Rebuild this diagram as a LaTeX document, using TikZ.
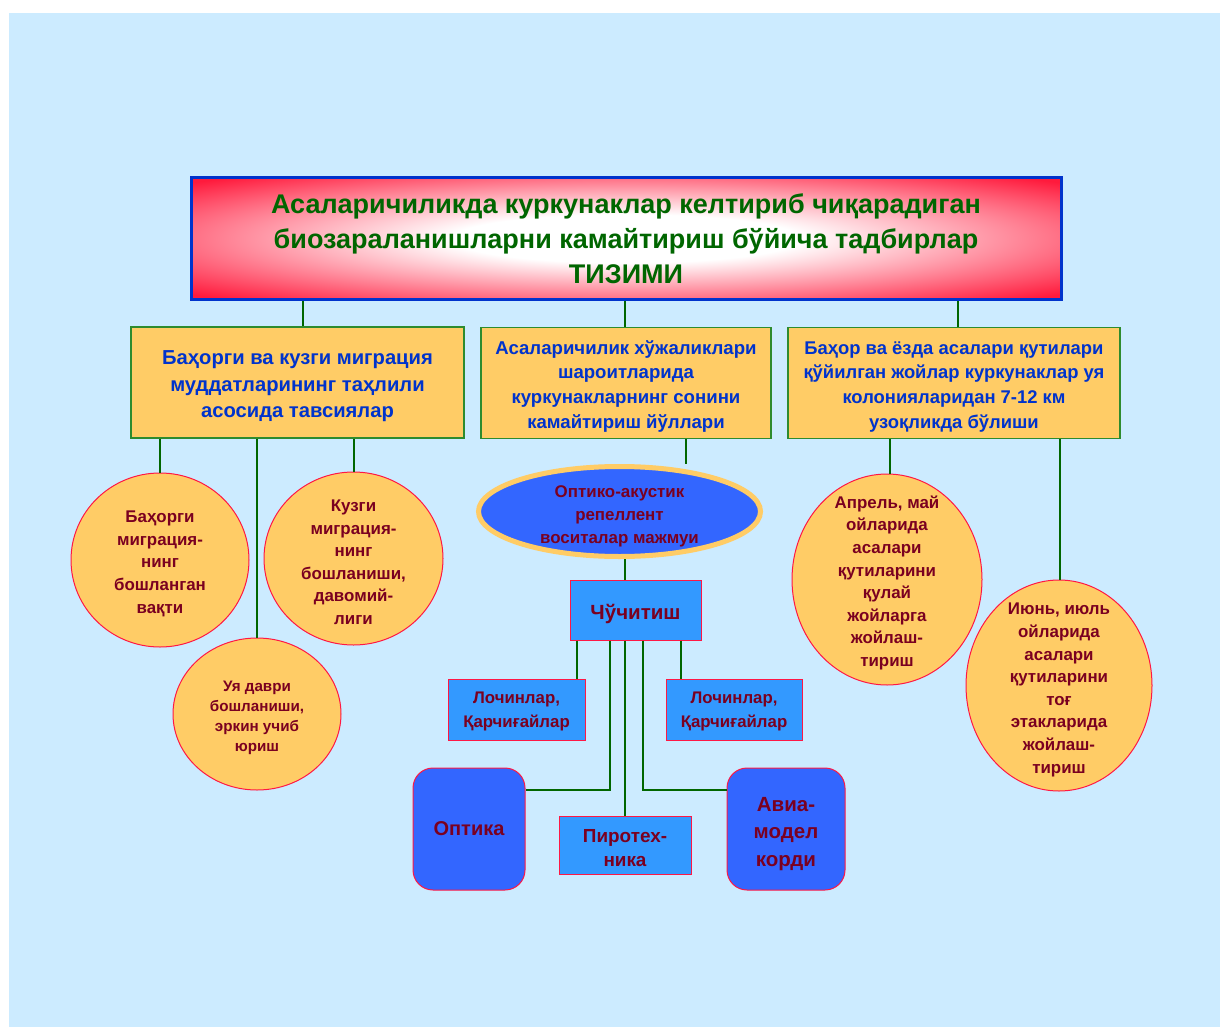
\documentclass[tikz,border=0pt]{standalone}
\usepackage{fontspec}
\setmainfont{Liberation Sans}
\usetikzlibrary{shapes.geometric}
\definecolor{bgblue}{HTML}{CCEBFF}
\definecolor{linegreen}{HTML}{006600}
\definecolor{framegreen}{HTML}{2E8B2E}
\definecolor{boxorange}{HTML}{FFCC66}
\definecolor{textblue}{HTML}{0033CC}
\definecolor{darkred}{HTML}{7A0020}
\definecolor{crimson}{HTML}{FF1744}
\definecolor{skyblue}{HTML}{3399FF}
\definecolor{royal}{HTML}{3366FF}
\definecolor{titlered}{HTML}{FF1A3C}
\definecolor{titleframe}{HTML}{0033CC}
\pgfdeclareradialshading{titleshade}{\pgfpoint{0bp}{0bp}}{%
  color(0bp)=(white); color(10bp)=(white); color(34bp)=(titlered); color(50bp)=(titlered)}
\tikzset{
  conn/.style={draw=linegreen, line width=2pt},
  orangebox/.style={rectangle, fill=boxorange, draw=framegreen, line width=1.2pt,
    text=textblue, inner sep=0pt, align=center},
  % negative inner sep keeps the ellipse at its minimum size around tall text
  oval/.style={ellipse, fill=boxorange, draw=crimson, line width=1pt,
    text=darkred, inner sep=-45pt, align=center},
  bluebox/.style={rectangle, fill=skyblue, draw=crimson, line width=1pt,
    text=darkred, inner sep=0pt, align=center},
  roundbox/.style={rectangle, rounded corners=20pt, fill=royal, draw=crimson,
    line width=1pt, text=darkred, inner sep=0pt, align=center},
}
\begin{document}
\begin{tikzpicture}[x=1pt, y=-1pt]
\useasboundingbox (0,0) rectangle (1220,1027);
\fill[white] (0,0) rectangle (1220,1027);
\fill[bgblue] (9,13) rectangle (1220,1027);

% title
\node[rectangle, shading=titleshade, draw=titleframe, line width=3pt,
  minimum width=870pt, minimum height=121pt, inner sep=0pt, align=center,
  text=linegreen, font={\fontsize{27}{35}\selectfont\bfseries}]
  (title) at (626,238.5)
  {Асаларичиликда куркунаклар келтириб чиқарадиган\\
   биозараланишларни камайтириш бўйича тадбирлар\\ ТИЗИМИ};

% second level (text height pads the top so the lines sit a little lower)
\node[orangebox, minimum width=333pt, minimum height=111pt, text height=74.5pt,
  font={\fontsize{20.2}{26.5}\selectfont\bfseries}] (b1) at (297.5,382.5)
  {Баҳорги ва кузги миграция\\ муддатларининг таҳлили\\ асосида тавсиялар};
\node[orangebox, minimum width=290pt, minimum height=111pt, text height=94.5pt,
  font={\fontsize{18.6}{24.7}\selectfont\bfseries}] (b2) at (626,383)
  {Асаларичилик хўжаликлари\\ шароитларида\\ куркунакларнинг сонини\\ камайтириш йўллари};
\node[orangebox, minimum width=332pt, minimum height=111pt, text height=94.5pt,
  font={\fontsize{18.4}{24.7}\selectfont\bfseries}] (b3) at (954,383)
  {Баҳор ва ёзда асалари қутилари\\ қўйилган жойлар куркунаклар уя\\
   колонияларидан 7-12 км\\ узоқликда бўлиши};

% left branch
\node[oval, minimum width=178pt, minimum height=174pt, text height=109.5pt,
  font={\fontsize{16.9}{22.6}\selectfont\bfseries}] (c1) at (160,560)
  {Баҳорги\\ миграция-\\ нинг\\ бошланган\\ вақти};
\node[oval, minimum width=179pt, minimum height=173pt, text height=132pt,
  font={\fontsize{16.9}{22.6}\selectfont\bfseries}] (c2) at (353.5,558.5)
  {Кузги\\ миграция-\\ нинг\\ бошланиши,\\ давомий-\\ лиги};
\node[oval, minimum width=168pt, minimum height=152pt, text height=78pt,
  font={\fontsize{15.2}{20}\selectfont\bfseries}] (c3) at (257,714)
  {Уя даври\\ бошланиши,\\ эркин учиб\\ юриш};

% right branch
\node[oval, minimum width=190pt, minimum height=211pt, text height=177.5pt,
  font={\fontsize{16.9}{22.6}\selectfont\bfseries}] (c4) at (887,579.5)
  {Апрель, май\\ ойларида\\ асалари\\ қутиларини\\ қулай\\ жойларга\\ жойлаш-\\ тириш};
\node[oval, minimum width=186pt, minimum height=211pt, text height=178.5pt,
  font={\fontsize{16.9}{22.6}\selectfont\bfseries}] (c5) at (1059,685.5)
  {Июнь, июль\\ ойларида\\ асалари\\ қутиларини\\ тоғ\\ этакларида\\ жойлаш-\\ тириш};

% middle branch
\node[ellipse, fill=royal, draw=boxorange, line width=5pt, inner sep=-30pt,
  minimum width=282pt, minimum height=90pt, align=center, text=darkred,
  text height=66.5pt,
  font={\fontsize{16.9}{23}\selectfont\bfseries}] (el) at (619.5,511.5)
  {Оптико-акустик\\ репеллент\\ воситалар мажмуи};
\node[bluebox, minimum width=131pt, minimum height=60pt, text height=23pt,
  text depth=4pt,
  font={\fontsize{20.5}{25}\selectfont\bfseries}] (scare) at (635.5,610)
  {Чўчитиш};
\node[bluebox, minimum width=137pt, minimum height=61pt, text height=40pt,
  font={\fontsize{16.8}{24}\selectfont\bfseries}] (hawk1) at (516.5,709.5)
  {Лочинлар,\\ Қарчиғайлар};
\node[bluebox, minimum width=136pt, minimum height=61pt, text height=40pt,
  font={\fontsize{16.8}{24}\selectfont\bfseries}] (hawk2) at (734,709.5)
  {Лочинлар,\\ Қарчиғайлар};
\node[roundbox, minimum width=112pt, minimum height=122pt,
  font={\fontsize{20}{27}\selectfont\bfseries}] (optic) at (469,829)
  {Оптика};
\node[bluebox, minimum width=132pt, minimum height=58pt, text height=43.5pt,
  font={\fontsize{18.9}{24}\selectfont\bfseries}] (pyro) at (625,845)
  {Пиротех-\\ ника};
\node[roundbox, minimum width=118pt, minimum height=122pt, text height=78.5pt,
  font={\fontsize{20.5}{27.5}\selectfont\bfseries}] (avia) at (786,829)
  {Авиа-\\ модел\\ корди};

% connector positions
\coordinate (k1) at (303,0);
\coordinate (k2) at (625,0);
\coordinate (k3) at (958,0);
\coordinate (k4) at (686,0);
\coordinate (k5) at (577,0);
\coordinate (k6) at (681,0);
\coordinate (k7) at (610,0);
\coordinate (k8) at (643,0);
\coordinate (k9) at (1060,0);
\coordinate (k10) at (890,0);
\coordinate (k11) at (0,790);

% connectors
\draw[conn] (title.south -| k1) -- (b1.north -| k1);
\draw[conn] (title.south -| k2) -- (b2.north -| k2);
\draw[conn] (title.south -| k3) -- (b3.north -| k3);
\draw[conn] (b1.south -| c1.north) -- (c1.north);
\draw[conn] (b1.south -| c2.north) -- (c2.north);
\draw[conn] (b1.south -| c3.north) -- (c3.north);
\draw[conn] (b3.south -| k10) -- (c4.north -| k10);
\draw[conn] (b3.south -| k9) -- (c5.north -| k9);
\draw[conn] (b2.south -| k4) -- (el.north -| k4);
\draw[conn] (el.south -| k2) -- (scare.north -| k2);
\draw[conn] (scare.south -| k5) -- (hawk1.north -| k5);
\draw[conn] (scare.south -| k6) -- (hawk2.north -| k6);
\draw[conn] (scare.south -| k7) -- (k7 |- k11) -- (optic.east |- k11);
\draw[conn] (scare.south -| k2) -- (pyro.north -| k2);
\draw[conn] (scare.south -| k8) -- (k8 |- k11) -- (avia.west |- k11);
\end{tikzpicture}
\end{document}
